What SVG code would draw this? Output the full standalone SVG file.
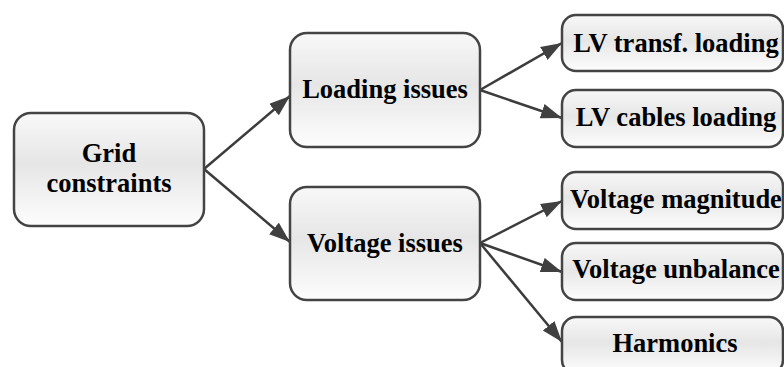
<svg xmlns="http://www.w3.org/2000/svg" width="784" height="367" viewBox="0 0 784 367">
  <style>
    .box { fill: url(#boxFill); stroke: #444444; stroke-width: 2.5; }
    .lbl { font-family: "Liberation Serif", "Times New Roman", serif; font-weight: bold; font-size: 26.5px; fill: #000000; text-anchor: middle; }
    .edge { stroke: #3c3c3c; stroke-width: 2.5; fill: none; marker-end: url(#arrow); }
  </style>
  <defs>
    <linearGradient id="boxFill" x1="0" y1="0" x2="0" y2="1">
      <stop offset="0" stop-color="#f8f8f8"/>
      <stop offset="0.45" stop-color="#e6e6e6"/>
      <stop offset="1" stop-color="#fdfdfd"/>
    </linearGradient>
    <marker id="arrow" markerUnits="userSpaceOnUse" markerWidth="22" markerHeight="16" refX="21" refY="7.5" orient="auto">
      <path d="M0,0 L21,7.5 L0,15 z" fill="#404040"/>
    </marker>
  </defs>

  <g id="connectors">
    <line class="edge" x1="204" y1="169" x2="290" y2="96"/>
    <line class="edge" x1="204" y1="169" x2="290" y2="242"/>
    <line class="edge" x1="480" y1="90" x2="562" y2="43"/>
    <line class="edge" x1="480" y1="90" x2="562" y2="118"/>
    <line class="edge" x1="480" y1="243" x2="562" y2="201"/>
    <line class="edge" x1="480" y1="243" x2="562" y2="272"/>
    <line class="edge" x1="480" y1="243" x2="562" y2="342"/>
  </g>

  <g id="grid-constraints">
    <rect class="box" x="14" y="113" width="190" height="113" rx="17"/>
    <text class="lbl" x="109" y="162">Grid</text>
    <text class="lbl" x="109" y="192">constraints</text>
  </g>

  <g id="loading-issues">
    <rect class="box" x="290" y="33" width="190" height="114" rx="17"/>
    <text class="lbl" x="385" y="98">Loading issues</text>
  </g>

  <g id="voltage-issues">
    <rect class="box" x="290" y="187" width="190" height="113" rx="17"/>
    <text class="lbl" x="385" y="252">Voltage issues</text>
  </g>

  <g id="lv-transf-loading">
    <rect class="box" x="562" y="15" width="221" height="56" rx="14"/>
    <text class="lbl" x="676" y="52">LV transf. loading</text>
  </g>

  <g id="lv-cables-loading">
    <rect class="box" x="562" y="90" width="221" height="57" rx="14"/>
    <text class="lbl" x="676" y="126">LV cables loading</text>
  </g>

  <g id="voltage-magnitude">
    <rect class="box" x="562" y="172" width="221" height="57" rx="14"/>
    <text class="lbl" x="676" y="208">Voltage magnitude</text>
  </g>

  <g id="voltage-unbalance">
    <rect class="box" x="562" y="243" width="221" height="57" rx="14"/>
    <text class="lbl" x="676" y="278">Voltage unbalance</text>
  </g>

  <g id="harmonics">
    <rect class="box" x="562" y="317" width="221" height="57" rx="14"/>
    <text class="lbl" x="675" y="352">Harmonics</text>
  </g>
</svg>
